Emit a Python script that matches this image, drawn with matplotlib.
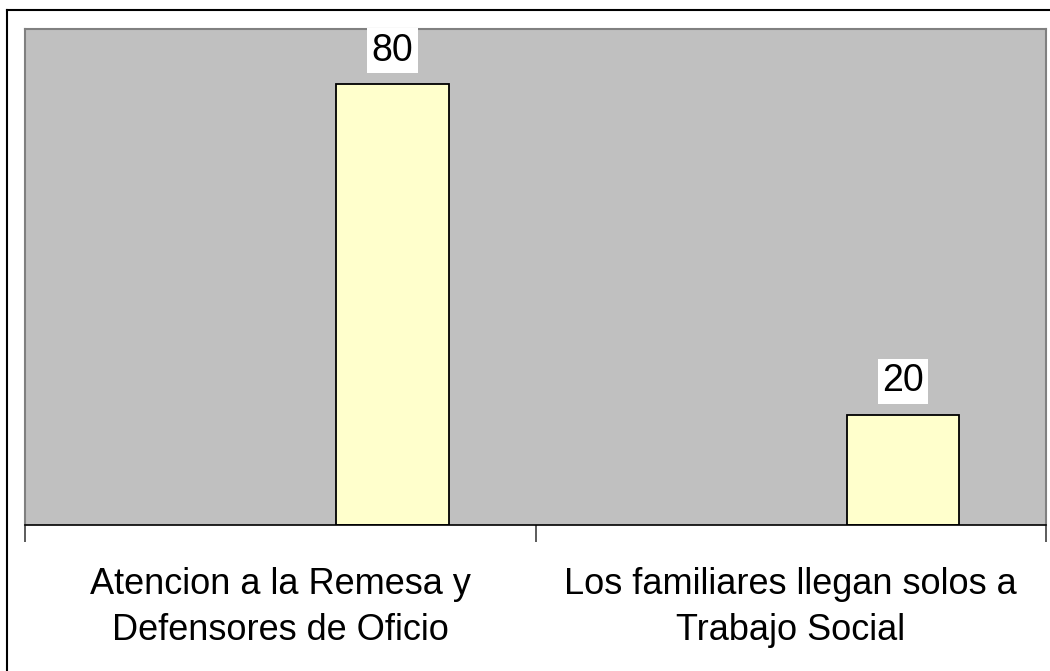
import matplotlib.pyplot as plt
from matplotlib.lines import Line2D

categories = ['Atencion a la Remesa y\nDefensores de Oficio',
              'Los familiares llegan solos a\nTrabajo Social']
values = [80, 20]

plt.rcParams['font.family'] = ['Liberation Sans', 'DejaVu Sans']

fig = plt.figure(figsize=(10.5, 6.71), dpi=100)
ax = fig.add_axes([25/1050, 1 - 525/671, 1021/1050, 496/671])
ax.set_facecolor('#C0C0C0')

pos = [i + 0.22 for i in range(len(categories))]
bars = ax.bar(pos, values, width=0.22, color='#FFFFCC', edgecolor='black', linewidth=1.3, zorder=2)

for x, v in zip(pos, values):
    ax.annotate(str(v), (x, v), xytext=(0, 24), textcoords='offset points',
                ha='center', va='center', fontsize=27, zorder=5, annotation_clip=False,
                bbox=dict(boxstyle='square,pad=0.12', fc='white', ec='none'))

ax.set_xlim(-0.5, 1.5)
ax.set_ylim(0, 90)
ax.set_yticks([])
ax.set_xticks([-0.5, 0.5, 1.5])
ax.set_xticklabels([])
ax.set_xticks(range(len(categories)), minor=True)
ax.set_xticklabels(categories, minor=True, fontsize=26, linespacing=1.42)
ax.tick_params(axis='x', which='major', length=12, width=1.2, color='#404040', direction='out')
ax.tick_params(axis='x', which='minor', length=0, pad=30)

for s in ['top', 'left', 'right']:
    ax.spines[s].set_color('#808080')
    ax.spines[s].set_linewidth(1.5)
ax.spines['bottom'].set_color('black')
ax.spines['bottom'].set_linewidth(1.2)

# outer frame (left and top only visible in the reference)
fig.add_artist(Line2D([6.5/1050, 6.5/1050], [0, 1 - 9.5/671], color='black', lw=1.5, transform=fig.transFigure))
fig.add_artist(Line2D([6.5/1050, 1], [1 - 9.5/671, 1 - 9.5/671], color='black', lw=1.5, transform=fig.transFigure))

fig.savefig('out.png', dpi=100)
